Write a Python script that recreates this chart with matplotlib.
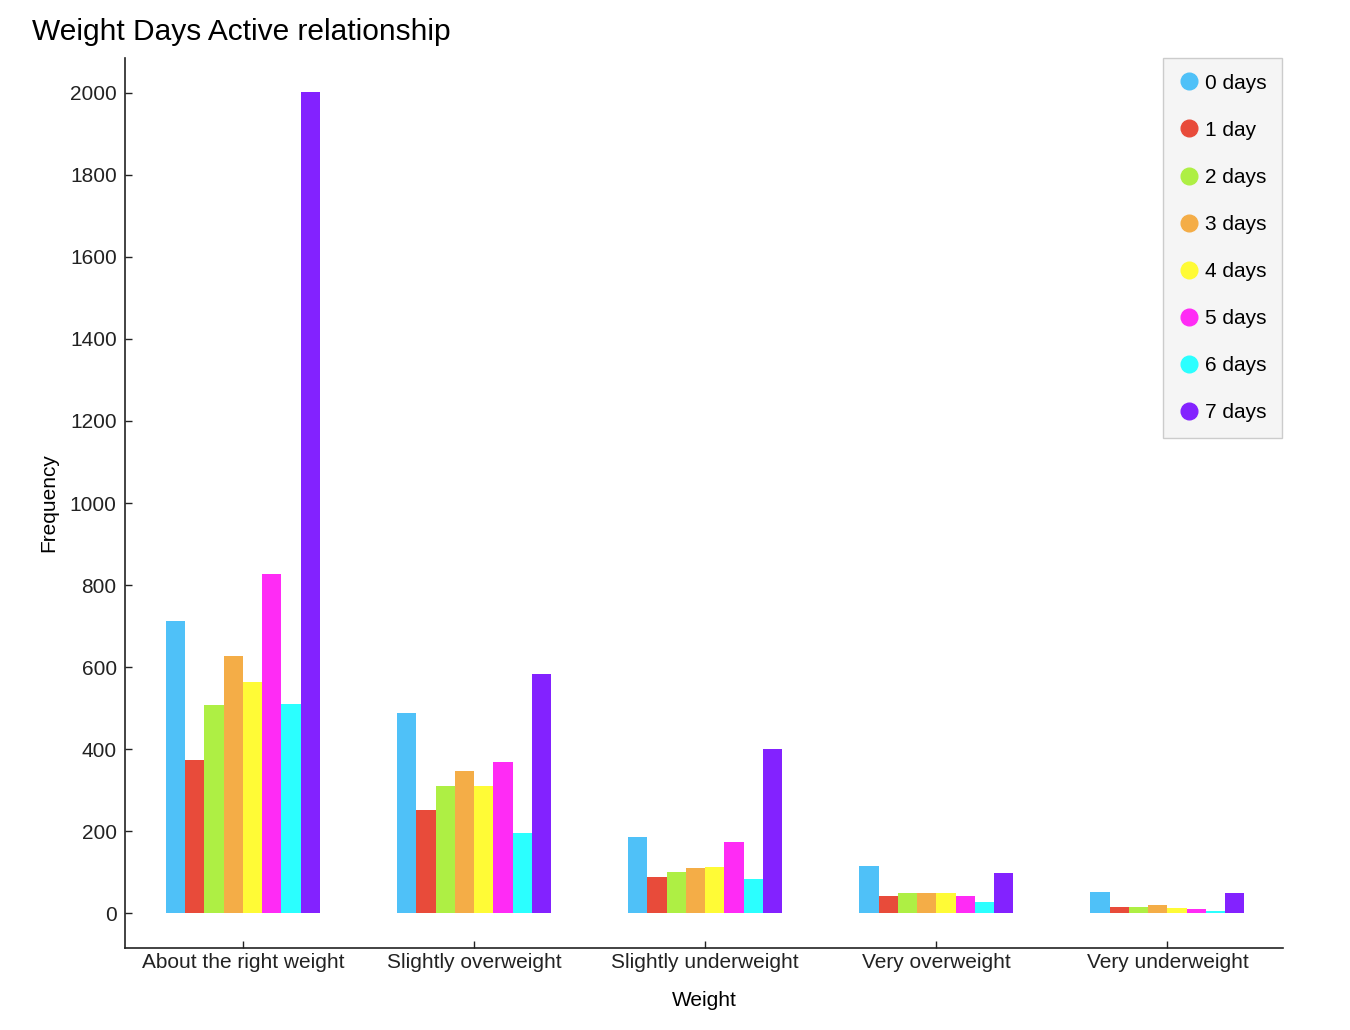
import numpy as np
import matplotlib.pyplot as plt

plt.rcParams['font.family'] = ['Liberation Sans', 'DejaVu Sans']

categories = ['About the right weight', 'Slightly overweight', 'Slightly underweight',
              'Very overweight', 'Very underweight']
series_names = ['0 days', '1 day', '2 days', '3 days', '4 days', '5 days', '6 days', '7 days']
colors = ['#4fc1f8', '#e84b3a', '#aeef44', '#f4ad47', '#fffb36', '#ff2bf5', '#2bffff', '#8322ff']

# frequency per weight category, one list per "days active" series
days0 = [712, 488, 185, 115, 51]
days1 = [373, 251, 89, 41, 15]
days2 = [508, 310, 100, 49, 15]
days3 = [627, 346, 111, 50, 20]
days4 = [563, 310, 113, 49, 13]
days5 = [827, 369, 173, 41, 11]
days6 = [510, 195, 84, 28, 5]
days7 = [2002, 582, 401, 98, 49]
series = [days0, days1, days2, days3, days4, days5, days6, days7]

fig = plt.figure(figsize=(13.5, 10.3), dpi=100)
ax = fig.add_axes([0.0926, 0.0796, 0.8578, 0.8641])

x = np.arange(len(categories))
width = 0.0833
n = len(series)
for i, vals in enumerate(series):
    offset = (i - (n - 1) / 2) * width
    ax.bar(x + offset, vals, width, color=colors[i], label=series_names[i])

ax.set_xlim(-0.51, 4.5)
ax.set_ylim(-85, 2085)
ax.set_yticks(range(0, 2001, 200))
ax.set_xticks(x)
ax.set_xticklabels(categories)
ax.tick_params(axis='both', direction='in', length=5, width=1, labelsize=15, colors='#222222')
ax.tick_params(axis='y', pad=6)

for s in ['top', 'right']:
    ax.spines[s].set_visible(False)
for s in ['left', 'bottom']:
    ax.spines[s].set_color('#222222')
    ax.spines[s].set_linewidth(1.2)

ax.set_xlabel('Weight', fontsize=15, labelpad=14)
ax.set_ylabel('Frequency', fontsize=15, labelpad=8)

fig.text(0.024, 0.969, 'Weight Days Active relationship', fontsize=21.5, va='center', ha='left')

handles = [plt.Line2D([], [], marker='o', linestyle='', markersize=12, color=c) for c in colors]
leg = ax.legend(handles, series_names, loc='upper right', bbox_to_anchor=(0.9496, 0.9437),
                bbox_transform=fig.transFigure, fontsize=15, labelspacing=1.35,
                handletextpad=0.25, handlelength=1.0, borderpad=0.75, borderaxespad=0,
                frameon=True, fancybox=False, framealpha=1)
leg.get_frame().set_facecolor('#f5f5f5')
leg.get_frame().set_edgecolor('#cccccc')

fig.savefig('out.png', dpi=100)
